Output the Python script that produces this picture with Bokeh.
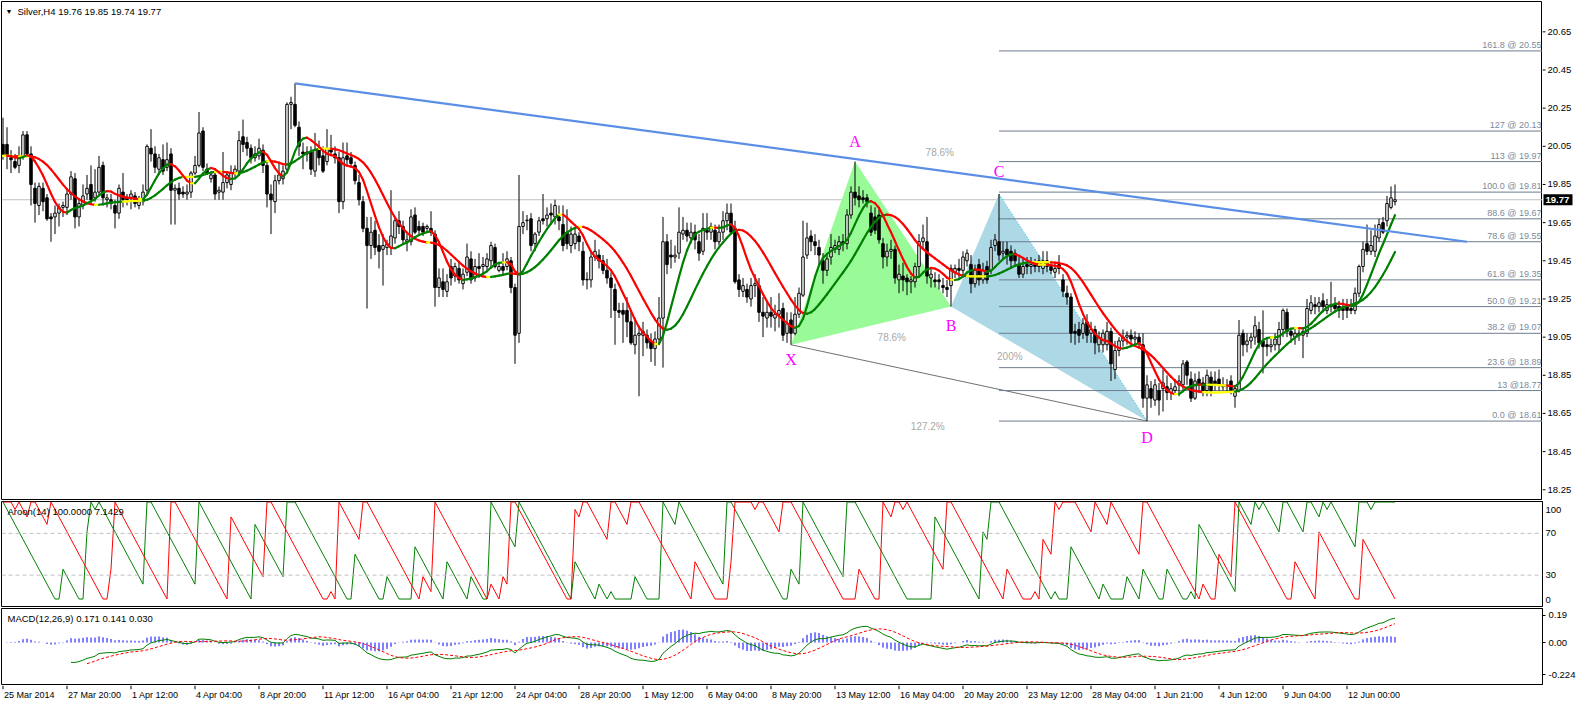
import numpy as np
from bokeh.plotting import figure
from bokeh.layouts import column, row
from bokeh.models import (ColumnDataSource, FixedTicker, Range1d, Label, Span,
                          CustomJSTickFormatter)
from bokeh.embed import file_html
from bokeh.resources import INLINE
from bokeh.core.properties import value

# ---------------- data ----------------
chart_title = "Silver,H4  19.76 19.85 19.74 19.77"
aroon_title = "Aroon(14) 100.0000 7.1429"
macd_title = "MACD(12,26,9) 0.171 0.141 0.030"

opens = [
20.06,20.06,19.99,19.97,19.95,20.00,20.11,20.01,19.83,19.74,
19.83,19.78,19.68,19.68,19.70,19.73,19.73,19.80,19.88,19.68,
19.74,19.80,19.85,19.78,19.81,19.95,19.77,19.77,19.74,19.70,
19.81,19.78,19.78,19.79,19.74,19.76,19.82,20.04,20.01,19.93,
19.98,19.94,20.01,19.82,19.83,19.81,19.80,19.81,19.91,19.95,
20.13,19.93,19.88,19.90,19.81,19.81,19.86,19.85,19.91,19.92,
20.10,20.07,20.04,19.99,20.00,20.03,19.95,19.80,19.76,19.87,
19.88,19.93,20.27,20.27,20.15,20.02,20.02,20.02,19.92,20.03,
20.00,19.97,20.04,20.01,19.99,19.76,20.00,19.99,19.95,19.86,
19.76,19.62,19.53,19.61,19.53,19.51,19.52,19.52,19.57,19.66,
19.63,19.55,19.55,19.69,19.63,19.63,19.62,19.62,19.59,19.31,
19.34,19.29,19.42,19.37,19.41,19.33,19.39,19.46,19.36,19.42,
19.42,19.42,19.45,19.52,19.40,19.42,19.42,19.45,19.31,19.07,
19.63,19.66,19.67,19.54,19.60,19.67,19.67,19.70,19.68,19.68,
19.64,19.60,19.53,19.54,19.58,19.50,19.35,19.35,19.47,19.48,
19.45,19.40,19.36,19.30,19.19,19.19,19.19,19.13,19.01,19.06,
19.06,19.06,19.03,18.99,19.04,19.15,19.55,19.48,19.47,19.49,
19.59,19.61,19.57,19.60,19.55,19.50,19.61,19.60,19.61,19.55,
19.60,19.66,19.70,19.62,19.35,19.29,19.30,19.25,19.32,19.32,
19.18,19.15,19.18,19.15,19.17,19.20,19.07,19.14,19.07,19.17,
19.27,19.48,19.58,19.55,19.52,19.45,19.40,19.47,19.51,19.51,
19.55,19.54,19.69,19.81,19.79,19.78,19.78,19.70,19.68,19.69,
19.54,19.47,19.50,19.51,19.35,19.37,19.36,19.34,19.34,19.42,
19.55,19.55,19.36,19.35,19.35,19.32,19.31,19.32,19.39,19.41,
19.40,19.45,19.43,19.33,19.43,19.35,19.42,19.40,19.53,19.55,
19.49,19.51,19.50,19.49,19.43,19.38,19.43,19.42,19.43,19.42,
19.41,19.45,19.42,19.39,19.43,19.35,19.28,19.26,19.08,19.09,
19.07,19.13,19.07,19.09,19.01,19.01,19.01,19.08,18.88,18.98,
19.03,19.05,19.06,19.04,19.05,19.01,18.73,18.78,18.72,18.77,
18.78,18.79,18.76,18.77,18.80,18.80,18.92,18.83,18.73,18.83,
18.81,18.77,18.84,18.82,18.83,18.80,18.79,18.82,18.74,18.77,
19.07,19.01,19.03,19.05,19.09,19.03,19.01,19.00,19.01,19.01,
19.09,19.18,19.08,19.05,19.06,19.06,19.07,19.19,19.22,19.21,
19.24,19.19,19.21,19.22,19.21,19.20,19.21,19.20,19.19,19.28,
19.42,19.54,19.50,19.50,19.57,19.65,19.66,19.73,19.76]

highs = [
20.20,20.15,20.03,20.01,20.05,20.13,20.13,20.05,19.86,19.86,
19.86,19.80,19.70,19.74,19.75,19.76,19.83,19.92,19.91,19.77,
19.85,19.90,19.95,19.93,20.00,19.97,19.80,19.80,19.77,19.85,
19.91,19.80,19.82,19.81,19.79,19.85,20.06,20.14,20.05,20.01,
20.06,20.07,20.04,19.85,19.86,19.84,19.85,19.92,20.00,20.23,
20.15,19.96,19.92,19.92,19.84,20.02,19.92,19.95,19.95,20.13,
20.19,20.10,20.06,20.05,20.09,20.06,19.97,19.85,19.90,19.97,
19.95,20.28,20.31,20.38,20.18,20.07,20.05,20.05,20.12,20.08,
20.05,20.14,20.11,20.05,20.02,20.07,20.07,20.02,19.97,19.90,
19.79,19.68,19.68,19.66,19.59,19.59,19.56,19.82,19.68,19.71,
19.66,19.59,19.72,19.73,19.66,19.65,19.64,19.71,19.61,19.41,
19.41,19.38,19.46,19.44,19.45,19.41,19.54,19.50,19.46,19.49,
19.47,19.49,19.55,19.54,19.44,19.49,19.50,19.47,19.33,19.90,
19.71,19.69,19.70,19.60,19.68,19.80,19.73,19.75,19.77,19.74,
19.74,19.72,19.63,19.62,19.60,19.55,19.39,19.50,19.56,19.51,
19.48,19.46,19.39,19.33,19.23,19.23,19.26,19.19,19.15,19.11,
19.13,19.09,19.07,19.08,19.26,19.68,19.59,19.56,19.53,19.73,
19.68,19.65,19.65,19.64,19.59,19.70,19.70,19.65,19.64,19.64,
19.71,19.75,19.75,19.66,19.38,19.36,19.33,19.36,19.38,19.36,
19.26,19.23,19.26,19.22,19.28,19.23,19.18,19.18,19.26,19.31,
19.66,19.65,19.61,19.59,19.56,19.49,19.49,19.59,19.56,19.58,
19.59,19.72,19.84,19.97,19.84,19.82,19.80,19.74,19.73,19.72,
19.57,19.54,19.56,19.53,19.43,19.44,19.38,19.37,19.44,19.59,
19.64,19.68,19.41,19.39,19.38,19.36,19.35,19.43,19.43,19.46,
19.50,19.51,19.48,19.43,19.46,19.44,19.45,19.56,19.59,19.80,
19.55,19.55,19.53,19.51,19.47,19.46,19.47,19.47,19.46,19.48,
19.50,19.50,19.45,19.44,19.48,19.38,19.32,19.28,19.12,19.13,
19.15,19.17,19.13,19.11,19.08,19.09,19.13,19.10,19.03,19.05,
19.09,19.08,19.09,19.08,19.07,19.07,18.85,18.82,18.83,18.81,
18.88,18.85,18.81,18.83,18.85,18.93,18.93,18.87,18.86,18.87,
18.84,18.88,18.87,18.87,18.88,18.84,18.83,18.85,18.80,19.14,
19.09,19.07,19.07,19.16,19.13,19.19,19.05,19.04,19.07,19.13,
19.20,19.20,19.10,19.10,19.09,19.10,19.25,19.27,19.26,19.26,
19.28,19.25,19.34,19.26,19.24,19.25,19.25,19.25,19.31,19.43,
19.55,19.64,19.61,19.64,19.67,19.68,19.79,19.84,19.85]

lows = [
19.98,19.93,19.91,19.93,19.91,19.98,20.00,19.74,19.65,19.69,
19.71,19.66,19.55,19.59,19.63,19.68,19.69,19.77,19.62,19.63,
19.72,19.77,19.75,19.76,19.79,19.74,19.73,19.72,19.62,19.67,
19.73,19.74,19.72,19.73,19.72,19.74,19.80,19.97,19.91,19.90,
19.90,19.92,19.64,19.64,19.77,19.78,19.77,19.78,19.90,19.94,
19.92,19.90,19.86,19.77,19.77,19.77,19.83,19.82,19.88,19.90,
20.02,20.00,19.96,19.97,19.98,19.91,19.73,19.59,19.70,19.85,
19.85,19.91,20.14,20.15,20.00,19.93,19.97,19.90,19.89,19.95,
19.91,19.95,20.00,19.96,19.70,19.72,19.95,19.94,19.85,19.74,
19.60,19.20,19.46,19.48,19.41,19.32,19.48,19.48,19.54,19.59,
19.54,19.50,19.53,19.59,19.59,19.58,19.60,19.58,19.21,19.26,
19.26,19.26,19.32,19.34,19.33,19.30,19.37,19.33,19.34,19.36,
19.38,19.40,19.42,19.41,19.39,19.37,19.40,19.28,18.91,19.02,
19.59,19.61,19.50,19.50,19.58,19.64,19.63,19.65,19.64,19.61,
19.50,19.51,19.49,19.51,19.50,19.32,19.30,19.31,19.45,19.41,
19.38,19.33,19.15,19.01,19.15,19.02,19.05,19.01,18.96,18.74,
18.95,18.99,18.92,18.90,19.01,18.89,19.38,19.41,19.44,19.46,
19.56,19.55,19.54,19.51,19.45,19.48,19.56,19.56,19.51,19.53,
19.56,19.61,19.59,19.33,19.26,19.26,19.23,19.21,19.26,19.13,
19.05,19.10,19.10,19.08,19.10,19.03,19.02,19.01,19.06,19.15,
19.26,19.46,19.50,19.48,19.43,19.33,19.37,19.43,19.49,19.48,
19.50,19.51,19.67,19.74,19.73,19.75,19.73,19.58,19.59,19.54,
19.41,19.42,19.46,19.33,19.28,19.29,19.27,19.28,19.31,19.37,
19.51,19.33,19.31,19.31,19.30,19.28,19.26,19.21,19.36,19.36,
19.37,19.42,19.28,19.31,19.32,19.33,19.33,19.38,19.50,19.45,
19.46,19.43,19.41,19.42,19.36,19.36,19.38,19.38,19.39,19.39,
19.38,19.39,19.38,19.36,19.38,19.26,19.22,19.02,19.01,19.02,
19.04,19.02,19.02,18.96,18.97,18.97,18.98,18.82,18.83,18.95,
19.00,19.01,19.02,19.00,18.99,18.68,18.61,18.68,18.69,18.64,
18.66,18.72,18.72,18.75,18.74,18.77,18.80,18.71,18.72,18.77,
18.74,18.74,18.74,18.77,18.77,18.77,18.76,18.75,18.68,18.76,
18.95,18.97,18.99,19.01,18.99,18.86,18.95,18.97,18.98,18.97,
19.05,19.05,19.02,19.01,19.03,18.94,19.05,19.17,19.17,19.18,
19.18,19.17,19.18,19.18,19.15,19.14,19.15,19.17,19.17,19.26,
19.39,19.48,19.48,19.47,19.55,19.59,19.63,19.72,19.74]

closes = [
20.00,20.00,19.98,19.94,20.00,20.11,20.01,19.85,19.75,19.84,
19.76,19.67,19.67,19.70,19.73,19.74,19.80,19.89,19.68,19.75,
19.79,19.83,19.77,19.81,19.94,19.78,19.78,19.75,19.70,19.83,
19.77,19.77,19.80,19.75,19.76,19.81,20.05,20.01,19.94,19.99,
19.92,19.98,19.82,19.83,19.80,19.80,19.81,19.91,19.95,20.12,
19.94,19.91,19.90,19.80,19.82,19.86,19.90,19.91,19.93,20.08,
20.06,20.04,19.99,20.01,20.04,19.95,19.80,19.77,19.87,19.90,
19.92,20.27,20.28,20.16,20.05,20.01,20.01,19.93,20.03,19.99,
19.92,20.04,20.02,19.99,19.76,19.99,19.98,19.96,19.87,19.77,
19.62,19.53,19.60,19.52,19.50,19.53,19.54,19.58,19.66,19.63,
19.56,19.56,19.68,19.60,19.61,19.60,19.63,19.60,19.31,19.36,
19.30,19.34,19.36,19.42,19.35,19.38,19.47,19.35,19.42,19.41,
19.43,19.46,19.53,19.42,19.42,19.40,19.46,19.31,19.06,19.63,
19.65,19.66,19.53,19.59,19.66,19.66,19.69,19.69,19.74,19.66,
19.53,19.54,19.59,19.59,19.55,19.35,19.35,19.47,19.50,19.45,
19.40,19.36,19.31,19.19,19.18,19.17,19.13,19.02,19.06,19.07,
19.08,19.02,18.99,19.04,19.15,19.55,19.43,19.47,19.48,19.60,
19.61,19.58,19.60,19.56,19.49,19.62,19.60,19.63,19.55,19.60,
19.66,19.70,19.60,19.34,19.30,19.32,19.26,19.32,19.33,19.18,
19.16,19.18,19.16,19.17,19.19,19.06,19.12,19.07,19.17,19.28,
19.47,19.57,19.55,19.53,19.48,19.40,19.46,19.52,19.53,19.55,
19.54,19.69,19.81,19.78,19.77,19.77,19.76,19.60,19.61,19.56,
19.47,19.50,19.51,19.36,19.38,19.35,19.34,19.35,19.42,19.55,
19.57,19.37,19.38,19.34,19.34,19.31,19.30,19.41,19.41,19.40,
19.47,19.49,19.33,19.40,19.35,19.40,19.35,19.52,19.56,19.48,
19.50,19.48,19.45,19.45,19.38,19.42,19.42,19.43,19.42,19.45,
19.45,19.42,19.40,19.41,19.41,19.29,19.26,19.07,19.07,19.06,
19.12,19.06,19.09,19.02,19.05,19.07,19.08,18.91,18.98,19.03,
19.05,19.06,19.04,19.05,19.02,18.73,18.80,18.73,18.80,18.72,
18.81,18.76,18.78,18.79,18.82,18.91,18.85,18.73,18.82,18.80,
18.77,18.85,18.77,18.80,18.80,18.79,18.80,18.77,18.78,19.06,
19.01,19.03,19.05,19.11,19.02,19.00,19.00,19.01,19.04,19.09,
19.19,19.08,19.06,19.07,19.07,19.08,19.20,19.23,19.21,19.23,
19.21,19.22,19.22,19.20,19.19,19.19,19.19,19.19,19.28,19.42,
19.51,19.50,19.53,19.58,19.64,19.60,19.75,19.78,19.77]

time_labels = ["25 Mar 2014", "27 Mar 20:00", "1 Apr 12:00", "4 Apr 04:00", "8 Apr 20:00",
               "11 Apr 12:00", "16 Apr 04:00", "21 Apr 12:00", "24 Apr 04:00", "28 Apr 20:00",
               "1 May 12:00", "6 May 04:00", "8 May 20:00", "13 May 12:00", "16 May 04:00",
               "20 May 20:00", "23 May 12:00", "28 May 04:00", "1 Jun 21:00", "4 Jun 12:00",
               "9 Jun 04:00", "12 Jun 00:00"]
bars_per_label = 16

price_ticks = [18.25, 18.45, 18.65, 18.85, 19.05, 19.25, 19.45, 19.65, 19.85, 20.05, 20.25, 20.45, 20.65]
last_price = 19.77

fib_levels = [20.55, 20.13, 19.97, 19.81, 19.67, 19.55, 19.35, 19.21, 19.07, 18.89, 18.77, 18.61]
fib_texts = ["161.8 @ 20.55", "127 @ 20.13", "113 @ 19.97", "100.0 @ 19.81", "88.6 @ 19.67",
             "78.6 @ 19.55", "61.8 @ 19.35", "50.0 @ 19.21", "38.2 @ 19.07", "23.6 @ 18.89",
             "13 @18.77", "0.0 @ 18.61"]
fib_start_bar = 249

pattern_names = ["X", "A", "B", "C", "D"]
pattern_bars = [197, 213, 237, 249, 286]
pattern_prices = [19.01, 19.97, 19.21, 19.80, 18.61]
pattern_label_dy = [15, -20, 19, -23, 16]

ratio_texts = ["78.6%", "78.6%", "200%", "127.2%"]
ratio_bars = [234.2, 222.2, 251.7, 231.2]
ratio_prices = [20.02, 19.05, 18.95, 18.58]

trend_bars = [73, 366]
trend_prices = [20.38, 19.55]

ma_periods = (12, 6)              # slow / fast colour-coded T3 averages
ma_vfactor = 0.7
macd_seed_ema = (20.15, 20.35)    # EMA12 / EMA26 state before the first bar
macd_main_start = 17
macd_signal_start = 21

aroon_ticks = [0, 30, 70, 100]
macd_ticks = [-0.224, 0.0, 0.19]

# ---------------- derived ----------------
o = np.array(opens); h = np.array(highs); l = np.array(lows); c = np.array(closes)
h = np.maximum(h, np.maximum(o, c)); l = np.minimum(l, np.minimum(o, c))
N = len(c)
idx = np.arange(N)


def ema(a, n):
    k = 2.0 / (n + 1)
    out = np.empty(len(a))
    out[0] = a[0]
    for i in range(1, len(a)):
        out[i] = out[i - 1] + k * (a[i] - out[i - 1])
    return out


def t3(a, n, v):
    e1 = ema(a, n); e2 = ema(e1, n); e3 = ema(e2, n)
    e4 = ema(e3, n); e5 = ema(e4, n); e6 = ema(e5, n)
    c1 = -v ** 3
    c2 = 3 * v ** 2 + 3 * v ** 3
    c3 = -6 * v ** 2 - 3 * v - 3 * v ** 3
    c4 = 1 + 3 * v + v ** 3 + 3 * v ** 2
    return c1 * e6 + c2 * e5 + c3 * e4 + c4 * e3


def aroon(hh, ll, n=14):
    up = np.empty(len(hh)); dn = np.empty(len(hh))
    for i in range(len(hh)):
        s = max(0, i - n + 1)
        wh = hh[s:i + 1][::-1]; wl = ll[s:i + 1][::-1]
        up[i] = 100.0 * (n - int(np.argmax(wh))) / n
        dn[i] = 100.0 * (n - int(np.argmin(wl))) / n
    return up, dn


e12, e26 = macd_seed_ema
main = []
for v in c:
    e12 += 2 / 13 * (v - e12)
    e26 += 2 / 27 * (v - e26)
    main.append(e12 - e26)
main = np.array(main)
signal = np.array([main[max(0, i - 8):i + 1].mean() for i in range(N)])
hist = main - signal
ar_up, ar_dn = aroon(h, l, 14)

GREEN = "#008000"; RED = "#FF0000"; YEL = "#FFFF00"


def slope_colored(m, thr):
    d = np.diff(m)
    cols = np.where(d > thr, GREEN, np.where(d < -thr, RED, YEL))
    return dict(x0=idx[:-1], y0=m[:-1], x1=idx[1:], y1=m[1:], col=list(cols))


FONT = "Liberation Sans"
W = 1580
RB = 38
FW = W - RB
xr = Range1d(-0.375, 384.875)


def style(p):
    p.xgrid.visible = False
    p.ygrid.visible = False
    p.background_fill_color = "white"
    p.border_fill_color = "white"


def sub_panel(height, yr):
    p = figure(width=W, height=height, x_range=xr, y_range=yr, output_backend="svg",
               toolbar_location=None, x_axis_location=None, y_axis_location="right",
               min_border_left=1, min_border_right=RB, min_border_top=1, min_border_bottom=1)
    style(p)
    p.outline_line_color = "black"
    p.outline_line_width = 1
    ax = p.yaxis[0]
    ax.axis_line_color = "black"
    ax.major_tick_in = 0
    ax.minor_tick_line_color = None
    ax.major_tick_line_color = "black"
    ax.major_label_text_font = FONT
    ax.major_label_text_font_size = "9.5px"
    ax.major_label_text_color = "black"
    ax.major_label_standoff = 3
    return p


# ---------------- main price panel ----------------
yr_main = Range1d(18.199, 20.809)
pm = figure(width=FW, height=500, x_range=xr, y_range=yr_main, output_backend="svg",
            toolbar_location=None, x_axis_location=None, y_axis_location=None,
            min_border_left=1, min_border_right=0, min_border_top=1, min_border_bottom=1)
style(pm)
pm.outline_line_color = "black"
pm.outline_line_width = 1

px = list(pattern_bars)
py = list(pattern_prices)
pm.patch(x=px[0:3], y=py[0:3], fill_color="#98FB98", line_color=None)
pm.patch(x=px[2:5], y=py[2:5], fill_color="#ADD8E6", line_color=None)
pm.line(x=[px[3], px[4]], y=[py[3], py[4]], line_color="#20C8D8", line_width=1, line_dash="1 2")
pm.line(x=[px[0], px[4]], y=[py[0], py[4]], line_color="#707070", line_width=1)

pm.segment(x0=[fib_start_bar] * len(fib_levels), y0=fib_levels,
           x1=[xr.end] * len(fib_levels), y1=fib_levels, line_color="#6E7D8E", line_width=1)
pm.add_layout(Span(location=last_price, dimension="width", line_color="#C0C0C0", line_width=1,
                   level="underlay"))

top = np.maximum(o, c); bot = np.minimum(o, c)
top = np.maximum(top, bot + 0.003)
csrc = ColumnDataSource(dict(x=idx, h=h, l=l, top=top, bot=bot,
                             fill=["white" if cc >= oo else "black" for oo, cc in zip(o, c)]))
pm.segment(x0="x", y0="h", x1="x", y1="l", source=csrc, line_color="black", line_width=1)
pm.vbar(x="x", width=0.62, top="top", bottom="bot", source=csrc, fill_color="fill",
        line_color="black", line_width=1)

for period in ma_periods:
    seg = ColumnDataSource(slope_colored(t3(c, period, ma_vfactor), 0.0015))
    pm.segment(x0="x0", y0="y0", x1="x1", y1="y1", line_color="col", line_width=2.2,
               line_cap="round", source=seg)

pm.line(x=trend_bars, y=trend_prices, line_color="#5B8FE6", line_width=2.2)

pm.text(x=ratio_bars, y=ratio_prices, text=ratio_texts, text_font=value(FONT),
        text_font_size="10px", text_color="#A8A8A8", text_align="center", text_baseline="middle")
pm.text(x=pattern_bars, y=pattern_prices, text=pattern_names, y_offset=pattern_label_dy,
        text_font=value("Liberation Serif"), text_font_size="16px", text_color="#FF00FF",
        text_align="center", text_baseline="middle")
pm.text(x=[xr.end] * len(fib_levels), y=fib_levels, text=fib_texts, x_offset=-1, y_offset=-1,
        text_font=value(FONT), text_font_size="9px", text_color="#7C8A9C",
        text_align="right", text_baseline="bottom")

FH_MAIN = 498
pm.add_layout(Label(x=4, y=FH_MAIN - 10, x_units="screen", y_units="screen", text="\u25BC",
                    text_font=FONT, text_font_size="7px", text_color="black", text_baseline="middle"))
pm.add_layout(Label(x=16, y=FH_MAIN - 10, x_units="screen", y_units="screen", text=chart_title,
                    text_font=FONT, text_font_size="9.5px", text_color="black", text_baseline="middle"))

# price scale strip at the right of the main panel (ticks, labels, current-price box)
pr = figure(width=RB, height=500, x_range=Range1d(0, RB), y_range=yr_main, output_backend="svg",
            toolbar_location=None, x_axis_location=None, y_axis_location=None,
            min_border_left=0, min_border_right=0, min_border_top=1, min_border_bottom=1)
style(pr)
pr.outline_line_color = None
pr.segment(x0=[0] * len(price_ticks), y0=price_ticks, x1=[3] * len(price_ticks), y1=price_ticks,
           line_color="black", line_width=1)
pr.text(x=[5] * len(price_ticks), y=price_ticks, text=["%.2f" % t for t in price_ticks],
        text_font=value(FONT), text_font_size="9.5px", text_color="black",
        text_align="left", text_baseline="middle")
pr.rect(x=[15.5], y=[last_price], width=29, height=11, height_units="screen",
        fill_color="black", line_color=None)
pr.text(x=[3], y=[last_price], text=["%.2f" % last_price], text_font=value(FONT),
        text_font_size="9.5px", text_font_style="bold", text_color="white",
        text_align="left", text_baseline="middle")

# ---------------- Aroon panel ----------------
pa = sub_panel(107, Range1d(0, 100.5))
pa.yaxis[0].ticker = FixedTicker(ticks=[6.7 if t == 0 else (92.8 if t == 100 else t) for t in aroon_ticks])
pa.yaxis[0].formatter = CustomJSTickFormatter(
    code="return tick < 10 ? '0' : (tick > 90 ? '100' : String(Math.round(tick)));")
pa.yaxis[0].major_tick_out = 0
for lev in aroon_ticks[1:3]:
    pa.add_layout(Span(location=lev, dimension="width", line_color="#C0C0C0", line_width=1,
                       line_dash="4 3"))
pa.line(x=idx, y=ar_up, line_color=GREEN, line_width=1)
pa.line(x=idx, y=ar_dn, line_color=RED, line_width=1)
pa.add_layout(Label(x=6, y=105 - 10, x_units="screen", y_units="screen", text=aroon_title,
                    text_font=FONT, text_font_size="9.5px", text_color="black", text_baseline="middle"))

# ---------------- MACD panel ----------------
pd_ = sub_panel(78, Range1d(-0.293, 0.238))
pd_.yaxis[0].ticker = FixedTicker(ticks=macd_ticks)
pd_.yaxis[0].major_tick_out = 3
pd_.yaxis[0].formatter = CustomJSTickFormatter(
    code="return tick == 0 ? '0.00' : (tick < 0 ? tick.toFixed(3) : tick.toFixed(2));")
pd_.segment(x0=idx, y0=np.zeros(N), x1=idx, y1=hist, line_color="#0000FF", line_width=1)
pd_.line(x=idx[macd_main_start:], y=main[macd_main_start:], line_color=GREEN, line_width=1)
pd_.line(x=idx[macd_signal_start:], y=signal[macd_signal_start:], line_color=RED, line_width=1,
         line_dash="3 2")
pd_.add_layout(Label(x=6, y=76 - 10, x_units="screen", y_units="screen", text=macd_title,
                     text_font=FONT, text_font_size="9.5px", text_color="black", text_baseline="middle"))

# ---------------- time axis strip ----------------
ps = figure(width=W, height=17, x_range=xr, y_range=Range1d(0, 1), output_backend="svg",
            toolbar_location=None, x_axis_location=None, y_axis_location=None,
            min_border_left=1, min_border_right=RB, min_border_top=0, min_border_bottom=0)
style(ps)
ps.outline_line_color = None
tick_bars = [bars_per_label * k for k in range(len(time_labels))]
ps.segment(x0=tick_bars, y0=[1] * len(tick_bars), x1=tick_bars, y1=[0.78] * len(tick_bars),
           line_color="black", line_width=1)
ps.text(x=tick_bars, y=[0.42] * len(tick_bars), text=time_labels, x_offset=1,
        text_font=value(FONT), text_font_size="9px", text_color="black",
        text_align="left", text_baseline="middle")

layout = column(row(pm, pr, spacing=0), pa, pd_, ps, spacing=0)
open("out.html", "w").write(file_html(layout, INLINE, title="Silver H4"))
